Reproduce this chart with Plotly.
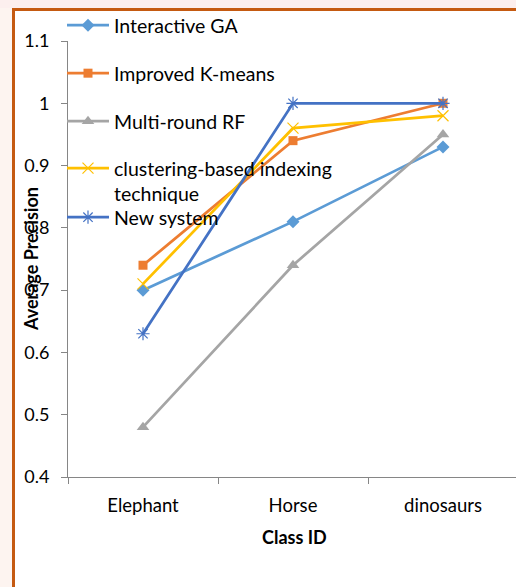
import plotly.graph_objects as go

# Average precision per class for each retrieval method
categories = ["Elephant", "Horse", "dinosaurs"]
interactive_ga = [0.70, 0.81, 0.93]
improved_kmeans = [0.74, 0.94, 1.00]
multi_round_rf = [0.48, 0.74, 0.95]
clustering_indexing = [0.71, 0.96, 0.98]
new_system = [0.63, 1.00, 1.00]

series = [
    ("Interactive GA", interactive_ga, "#5B9BD5", "diamond", 10),
    ("Improved K-means", improved_kmeans, "#ED7D31", "square", 9),
    ("Multi-round RF", multi_round_rf, "#A5A5A5", "triangle-up", 11),
    ("clustering-based indexing<br>technique", clustering_indexing, "#FFC000", "x-thin-open", 11),
    ("New system", new_system, "#4472C4", "asterisk-open", 11),
]

Y_RANGE = [0.4, 1.1]

W, H = 516, 587
L, R, T, B = 68, 0, 41, 110
pw, ph = W - L - R, H - T - B

def px_x(p):
    return (p - L) / pw

def px_y(p):
    return (H - B - p) / ph

FONT = "Lato"

fig = go.Figure()
legend_rows = [24, 72, 120, 167, 216]
legend_names = ["legend", "legend2", "legend3", "legend4", "legend5"]
for (name, vals, color, sym, size), lg in zip(series, legend_names):
    open_sym = sym.endswith("open")
    fig.add_trace(go.Scatter(
        x=categories, y=vals, name=name, mode="lines+markers",
        line=dict(color=color, width=2.75),
        marker=dict(symbol=sym, size=size, color=color,
                    line=dict(color=color, width=1.2 if open_sym else 0)),
        legend=lg,
    ))

# invisible carrier so the label-only value axis is drawn
fig.add_trace(go.Scatter(x=[categories[0]], y=[Y_RANGE[0]], yaxis="y2",
                         mode="markers", marker=dict(opacity=0),
                         showlegend=False, hoverinfo="skip"))

layout_legends = {}
for lg, row in zip(legend_names, legend_rows):
    layout_legends[lg] = dict(
        x=px_x(62), y=px_y(row - 18), xanchor="left", yanchor="top",
        bgcolor="rgba(0,0,0,0)", borderwidth=0,
        font=dict(family=FONT, size=19.5, color="#000000"),
        itemwidth=42, valign="top", tracegroupgap=0,
    )

axis_color = "#868686"
fig.update_layout(
    width=W, height=H,
    margin=dict(l=L, r=R, t=T, b=B),
    paper_bgcolor="white", plot_bgcolor="white",
    showlegend=True,
    font=dict(family=FONT, color="#000000"),
    xaxis=dict(
        type="category", range=[-0.5, -0.5 + pw / 150.0],
        showline=True, linecolor=axis_color, linewidth=1.2,
        ticks="outside", tickson="boundaries", ticklen=6, tickcolor=axis_color,
        showgrid=False, zeroline=False, ticklabelstandoff=12,
        tickfont=dict(family=FONT, size=18.5, color="#000000"),
    ),
    yaxis=dict(
        range=Y_RANGE, dtick=0.1,
        showline=True, linecolor=axis_color, linewidth=1.2,
        ticks="outside", ticklen=6, tickcolor=axis_color,
        showgrid=False, zeroline=False, showticklabels=False,
    ),
    yaxis2=dict(
        range=Y_RANGE, dtick=0.1, overlaying="y", side="left",
        showline=False, showgrid=False, zeroline=False,
        ticks="outside", ticklen=14, tickcolor="rgba(0,0,0,0)",
        tickfont=dict(family=FONT, size=18, color="#000000"),
    ),
    annotations=[
        dict(text="<b>Class ID</b>", xref="paper", yref="paper",
             x=px_x(294), y=px_y(537), xanchor="center", yanchor="middle",
             showarrow=False,
             font=dict(family=FONT, size=18, color="#000000")),
        dict(text="<b>Average Precision</b>", xref="paper", yref="paper",
             x=px_x(31), y=px_y(259), xanchor="center", yanchor="middle",
             showarrow=False, textangle=-90,
             font=dict(family=FONT, size=18, color="#000000")),
    ],
    shapes=[
        # faint tinted margins outside the frame
        dict(type="rect", xref="paper", yref="paper", layer="below",
             x0=px_x(0), x1=px_x(W), y0=px_y(8), y1=px_y(0),
             fillcolor="#fcefee", line=dict(width=0)),
        dict(type="rect", xref="paper", yref="paper", layer="below",
             x0=px_x(0), x1=px_x(12), y0=px_y(H), y1=px_y(8),
             fillcolor="#fdf4f0", line=dict(width=0)),
        # orange frame
        dict(type="rect", xref="paper", yref="paper", layer="below",
             x0=px_x(12), x1=px_x(W), y0=px_y(11), y1=px_y(8),
             fillcolor="#C55A11", line=dict(width=0)),
        dict(type="rect", xref="paper", yref="paper", layer="below",
             x0=px_x(12), x1=px_x(15), y0=px_y(H), y1=px_y(8),
             fillcolor="#C55A11", line=dict(width=0)),
    ],
    **layout_legends,
)

fig.write_html("out.html")
